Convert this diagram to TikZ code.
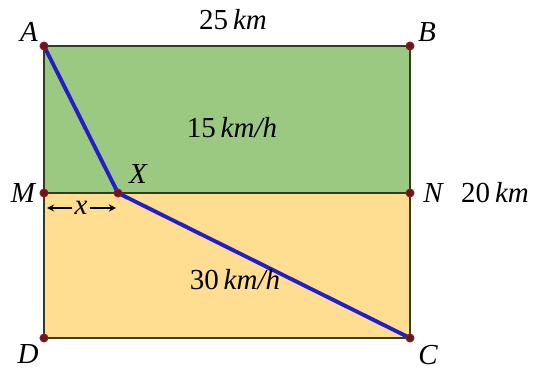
\documentclass[tikz,border=0pt]{standalone}
\usepackage{fontspec}
\setmainfont{Liberation Serif}
\begin{document}
\begin{tikzpicture}[x=0.02cm,y=-0.02cm,
  lbl/.style={font=\fontsize{16.5}{19}\selectfont\itshape, inner sep=1pt},
  txt/.style={font=\fontsize{16.5}{19}\selectfont, inner sep=1pt},
  pt/.style={circle, draw={rgb,255:red,140;green,30;blue,30}, fill={rgb,255:red,110;green,20;blue,30}, line width=0.6pt, inner sep=0pt, minimum size=4.5pt},
  border/.style={draw={rgb,255:red,50;green,60;blue,35}, line width=1.4pt},
  route/.style={draw={rgb,255:red,35;green,30;blue,200}, line width=2.2pt, line cap=round, line join=round}]
\useasboundingbox (0,0) rectangle (537,371);
\fill[fill={rgb,255:red,155;green,201;blue,130}] (44,46) rectangle (410,193);
\fill[fill={rgb,255:red,255;green,221;blue,145}] (44,193) rectangle (410,338);
\coordinate (A) at (44,46);
\coordinate (B) at (410,46);
\coordinate (M) at (44,193);
\coordinate (N) at (410,193);
\coordinate (D) at (44,338);
\coordinate (C) at (410,338);
\coordinate (X) at (118,193);
\draw[border] (A) -- (B) -- (N) -- (C) -- (D) -- (M) -- cycle;
\draw[border] (M) -- (N);
\draw[route] (A) -- (X) -- (C);
\foreach \p in {A,B,M,N,D,C,X} \node[pt] at (\p) {};
\node[lbl] (lA) at (29,32) {A};
\node[lbl] (lB) at (427,32) {B};
\node[lbl] (lM) at (23,193) {M};
\node[lbl] (lN) at (433,193) {N};
\node[lbl] (lD) at (28,354) {D};
\node[lbl] (lC) at (428,355) {C};
\node[lbl] (lX) at (138,174) {X};
\node[txt] (t25) at (233,20) {25\,\textit{km}};
\node[txt] (t15) at (232,128) {15\,\textit{km/h}};
\node[txt] (t30) at (235,280) {30\,\textit{km/h}};
\node[txt] (t20) at (495,193) {20\,\textit{km}};
\node[lbl] (lx) at (81,208) {x};
\coordinate (xl) at (47,208);
\coordinate (xr) at (116,208);
\draw[-stealth, line width=0.8pt] (lx.west) -- (xl);
\draw[-stealth, line width=0.8pt] (lx.east) -- (xr);
\end{tikzpicture}
\end{document}
